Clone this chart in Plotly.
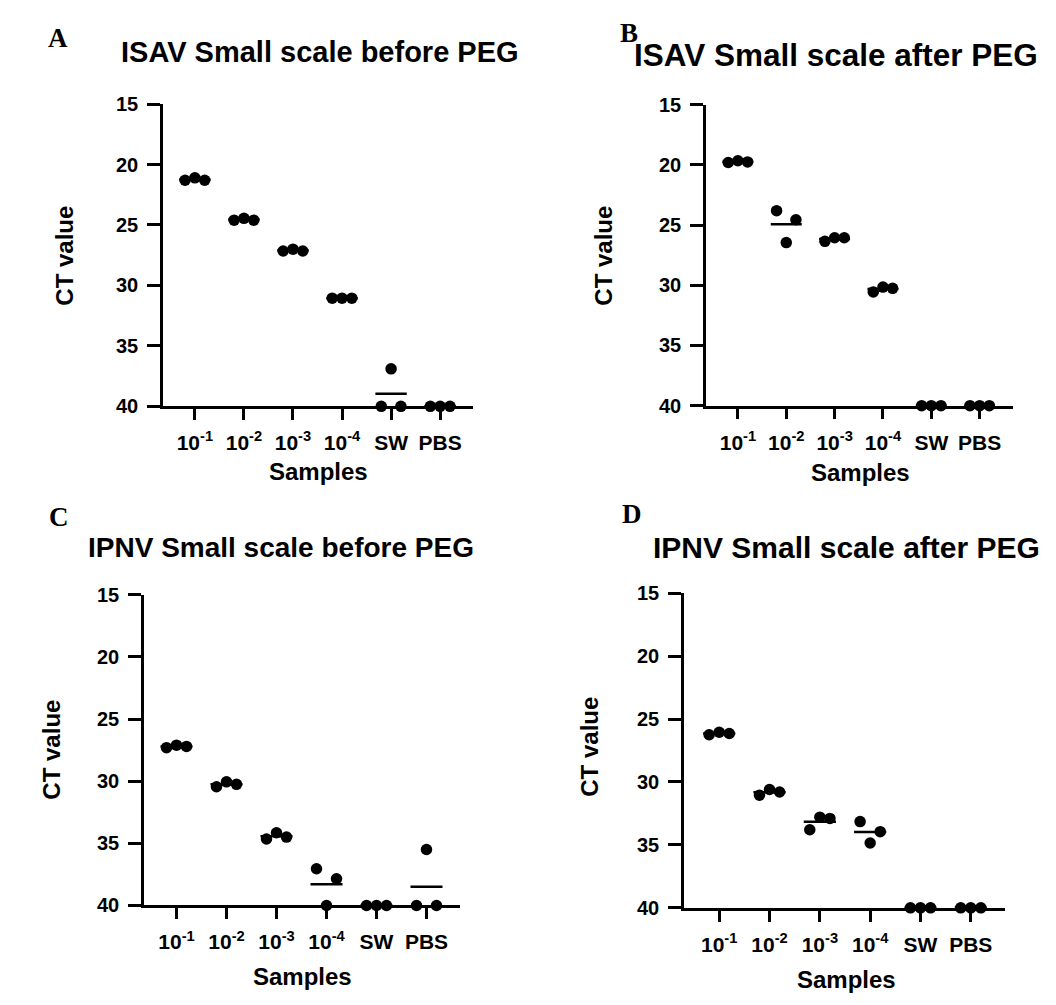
import plotly.graph_objects as go

# ---------------- data ----------------
categories = ["10<sup>-1</sup>", "10<sup>-2</sup>", "10<sup>-3</sup>", "10<sup>-4</sup>", "SW", "PBS"]
y_ticks = [15, 20, 25, 30, 35, 40]

isav_before = [[21.3, 21.1, 21.3], [24.6, 24.45, 24.6], [27.15, 27.0, 27.15],
               [31.05, 31.05, 31.05], [40, 36.9, 40], [40, 40, 40]]
isav_after = [[19.8, 19.65, 19.75], [23.8, 26.45, 24.55], [26.35, 26.05, 26.05],
              [30.55, 30.15, 30.25], [40, 40, 40], [40, 40, 40]]
ipnv_before = [[27.3, 27.1, 27.2], [30.45, 30.05, 30.25], [34.65, 34.15, 34.5],
               [37.05, 40, 37.85], [40, 40, 40], [40, 35.5, 40]]
ipnv_after = [[26.25, 26.05, 26.15], [31.05, 30.6, 30.8], [33.8, 32.8, 32.9],
              [33.15, 34.85, 33.95], [40, 40, 40], [40, 40, 40]]

titles = ["ISAV Small scale before PEG", "ISAV Small scale after PEG",
          "IPNV Small scale before PEG", "IPNV Small scale after PEG"]
letters = ["A", "B", "C", "D"]
datasets = [isav_before, isav_after, ipnv_before, ipnv_after]

# ---------------- layout geometry (screen pixels) ----------------
W, H = 1056, 1005
OFF = 8  # page body margin
panels = [
    dict(x0=163, x1=473, y0=95, y1=404, xr=[0.35, 6.67], title=(320, 42, 29), letter=(58, 27),
         ytitle=(65, 250), xtitle=(318, 471)),
    dict(x0=706, x1=1013, y0=95.7, y1=403.3, xr=[0.34, 6.69], title=(836, 45, 31.5), letter=(629, 22),
         ytitle=(604, 250), xtitle=(860, 472)),
    dict(x0=144, x1=460, y0=596.7, y1=914.3, xr=[0.35, 6.67], title=(281, 548, 28), letter=(59, 517),
         ytitle=(52, 755), xtitle=(302, 987)),
    dict(x0=684, x1=1005, y0=595, y1=916.7, xr=[0.30, 6.68], title=(846, 548, 30), letter=(632, 514),
         ytitle=(590, 752), xtitle=(846, 990)),
]

FONT = "Liberation Sans"
step = 0.2        # swarm spacing in category units
half = 0.32       # half-width of mean line

fig = go.Figure()
annotations = []


def px(x):
    return (x - OFF) / W


def py(y):
    return 1 - (y - OFF) / H


for k, (p, data) in enumerate(zip(panels, datasets)):
    ax = "" if k == 0 else str(k + 1)
    xref = "x" + ax
    yref = "y" + ax
    # mean lines
    for i, vals in enumerate(data):
        m = sum(vals) / len(vals)
        c = i + 1
        fig.add_trace(go.Scatter(x=[c - half, c + half], y=[m, m], mode="lines",
                                 line=dict(color="black", width=2.5), xaxis=xref, yaxis=yref,
                                 showlegend=False, hoverinfo="skip", cliponaxis=False))
    # points (simple swarm: replicate index sets horizontal offset)
    xs, ys = [], []
    for i, vals in enumerate(data):
        n = len(vals)
        for j, v in enumerate(vals):
            xs.append(i + 1 + (j - (n - 1) / 2) * step)
            ys.append(v)
    fig.add_trace(go.Scatter(x=xs, y=ys, mode="markers",
                             marker=dict(color="black", size=11.5, line=dict(width=0)),
                             xaxis=xref, yaxis=yref, showlegend=False, cliponaxis=False))

    common = dict(showgrid=False, zeroline=False, showline=True, linecolor="black", linewidth=2.5,
                  ticks="outside", tickcolor="black", tickwidth=2.5)
    fig.update_layout(**{
        "xaxis" + ax: dict(domain=[px(p["x0"]), px(p["x1"])], range=p["xr"],
                           tickvals=list(range(1, len(categories) + 1)), ticktext=categories,
                           ticklen=11, ticklabelstandoff=5, anchor=yref,
                           tickfont=dict(family=FONT, size=21, color="black", weight="bold"),
                           **common),
        "yaxis" + ax: dict(domain=[py(p["y1"]), py(p["y0"])], range=[40, 15],
                           tickvals=y_ticks, ticklen=13, ticklabelstandoff=5, anchor=xref,
                           tickfont=dict(family=FONT, size=20, color="black", weight="bold"),
                           **common),
    })
    tx, ty, ts = p["title"]
    annotations.append(dict(x=px(tx), y=py(ty), xref="paper", yref="paper", text=titles[k],
                            showarrow=False, xanchor="center", yanchor="middle",
                            font=dict(family=FONT, size=ts, color="black", weight="bold")))
    lx, ly = p["letter"]
    annotations.append(dict(x=px(lx), y=py(ly), xref="paper", yref="paper", text=letters[k],
                            showarrow=False, xanchor="center", yanchor="middle",
                            font=dict(family="Liberation Serif", size=27, color="black", weight="bold")))
    yx, yy = p["ytitle"]
    annotations.append(dict(x=px(yx), y=py(yy), xref="paper", yref="paper", text="CT value",
                            showarrow=False, xanchor="center", yanchor="middle", textangle=-90,
                            font=dict(family=FONT, size=24, color="black", weight="bold")))
    sx, sy = p["xtitle"]
    annotations.append(dict(x=px(sx), y=py(sy), xref="paper", yref="paper", text="Samples",
                            showarrow=False, xanchor="center", yanchor="middle",
                            font=dict(family=FONT, size=24, color="black", weight="bold")))

fig.update_layout(width=W, height=H, margin=dict(l=0, r=0, t=0, b=0),
                  paper_bgcolor="white", plot_bgcolor="white", annotations=annotations)

fig.write_html("out.html")
